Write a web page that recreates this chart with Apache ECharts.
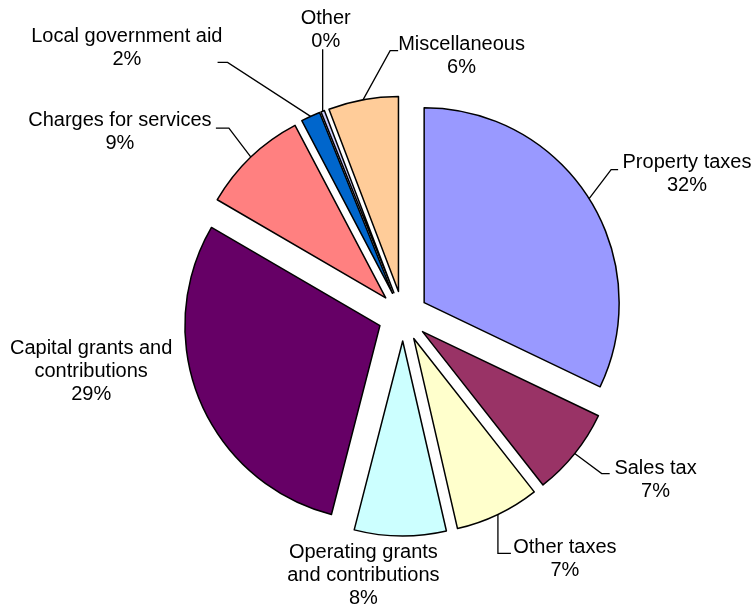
<!DOCTYPE html>
<html><head><meta charset="utf-8">
<script src="https://cdn.jsdelivr.net/npm/echarts@6/dist/echarts.min.js"></script>
<style>html,body{margin:0;padding:0;background:#fff}#c{width:751px;height:607px}</style>
</head><body><div id="c"></div>
<script>
// Categories (label lines) and shares in percent, clockwise from 12 o'clock
const categories = ['Property taxes', 'Sales tax', 'Other taxes', 'Operating grants\nand contributions',
  'Capital grants and\ncontributions', 'Charges for services', 'Local government aid', 'Other', 'Miscellaneous'];
const values = [32.1, 7.3, 7.0, 7.6, 29.4, 8.9, 1.6, 0.3, 5.8];
const colors = ['#9999FF', '#993366', '#FFFFCC', '#CCFFFF', '#660066', '#FF8080', '#0066CC', '#CCCCFF', '#FFCC99'];

// Label placement tweaks (text shift from the library's default anchor; leader bends relative to leader start)
const labelShift = [[28.4, -25.2], [34.7, 26], [10.3, 44.6], [44.3, 39.5], [-22.7, -29.4], [-34.3, -25.1], [-83.1, -68.5], [33.1, -81.2], [166.8, -44]];
const leaderBends = [[[22, -29], [29, -29]], [[27, 20], [35, 20]], [[0, 39], [13, 39]], null, null,
  [[-22, -29], [-35, -29]], [[-83, -54], [-93, -54]], [[0, -62]], [[27, -49], [35, -49]]];

const FONT = "'Liberation Sans', Arial, sans-serif";
const chart = echarts.init(document.getElementById('c'), null, { renderer: 'canvas' });

const data = categories.map((name, i) => ({
  name: name,
  value: values[i],
  selected: true,
  itemStyle: { color: colors[i] },
  labelLine: { show: leaderBends[i] !== null }
}));

chart.setOption({
  animation: false,
  backgroundColor: '#fff',
  series: [{
    type: 'pie',
    center: [403, 316],
    radius: 195,
    startAngle: 90,
    clockwise: true,
    selectedMode: 'multiple',
    selectedOffset: 25,
    avoidLabelOverlap: false,
    emphasis: { disabled: true },
    itemStyle: { borderColor: '#000', borderWidth: 1.5 },
    select: {
      itemStyle: { borderColor: '#000', borderWidth: 1.5 },
      label: { color: '#000' },
      labelLine: { lineStyle: { color: '#000', width: 1.3 } }
    },
    label: {
      show: true,
      position: 'outside',
      color: '#000',
      fontFamily: FONT,
      fontSize: 20,
      lineHeight: 23,
      distanceToLabelLine: 5,
      formatter: function (p) {
        const lines = categories[p.dataIndex].split('\n');
        lines.push(Math.round(p.percent) + '%');
        return lines.map(l => '{c|' + l + '}').join('\n');
      },
      rich: {
        c: { align: 'center', fontFamily: FONT, fontSize: 20, lineHeight: 23, color: '#000' }
      }
    },
    labelLine: {
      show: true,
      length: 0,
      length2: 0,
      minTurnAngle: 0,
      maxSurfaceAngle: 0,
      lineStyle: { color: '#000', width: 1.3 }
    },
    labelLayout: function (p) {
      const i = p.dataIndex;
      const out = { dx: labelShift[i][0], dy: labelShift[i][1] };
      const b = leaderBends[i];
      if (b && p.labelLinePoints) {
        const p0 = p.labelLinePoints[0];
        out.labelLinePoints = [p0].concat(b.map(d => [p0[0] + d[0], p0[1] + d[1]]));
      }
      return out;
    },
    data: data
  }]
});
</script>
</body></html>
